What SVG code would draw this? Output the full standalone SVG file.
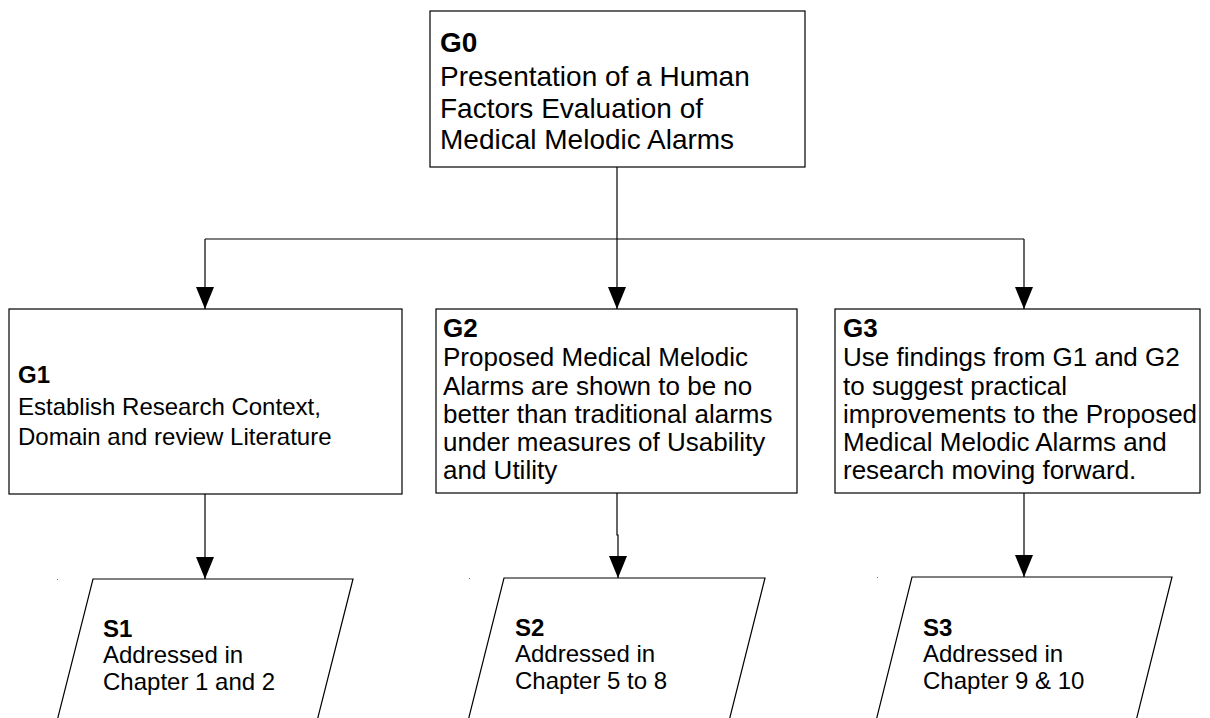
<svg xmlns="http://www.w3.org/2000/svg" width="1210" height="718" viewBox="0 0 1210 718">
  <style>
    .box { fill: #fff; stroke: #000; stroke-width: 1.2; }
    .wire { fill: none; stroke: #000; stroke-width: 1.2; }
    text { font-family: "Liberation Sans", Arial, sans-serif; fill: #000; }
    .id { font-weight: bold; }
    .g0 { font-size: 28px; }
    .g1 { font-size: 24px; }
    .g { font-size: 26px; }
    .s { font-size: 24px; }
    .tick { fill: #777; }
  </style>
  <defs>
    <marker id="arrow" markerUnits="userSpaceOnUse" markerWidth="24" markerHeight="20" refX="22" refY="9" orient="auto">
      <path d="M0,0 L22,9 L0,18 z" fill="#000"/>
    </marker>
  </defs>

  <!-- connectors -->
  <g id="connectors">
    <path class="wire" d="M617,167 V239"/>
    <path class="wire" d="M205,239 H1024"/>
    <path class="wire" d="M205,239 V309" marker-end="url(#arrow)"/>
    <path class="wire" d="M617,239 V309" marker-end="url(#arrow)"/>
    <path class="wire" d="M1024,239 V309" marker-end="url(#arrow)"/>
    <path class="wire" d="M205,494 V579" marker-end="url(#arrow)"/>
    <path class="wire" d="M617,493 V535 H618 V578" marker-end="url(#arrow)"/>
    <path class="wire" d="M1024,493 V577" marker-end="url(#arrow)"/>
  </g>

  <!-- goal G0 -->
  <g id="G0">
    <rect class="box" x="430" y="11" width="375" height="156"/>
    <text class="g0" x="440"><tspan class="id" y="52">G0</tspan><tspan x="440" y="86">Presentation of a Human</tspan><tspan x="440" y="118">Factors Evaluation of</tspan><tspan x="440" y="149">Medical Melodic Alarms</tspan></text>
  </g>

  <!-- goal G1 -->
  <g id="G1">
    <rect class="box" x="9" y="309" width="393" height="185"/>
    <text class="g1" x="18"><tspan class="id" y="383">G1</tspan><tspan x="18" y="415">Establish Research Context,</tspan><tspan x="18" y="445">Domain and review Literature</tspan></text>
  </g>

  <!-- goal G2 -->
  <g id="G2">
    <rect class="box" x="436" y="309" width="361" height="184"/>
    <text class="g" x="443"><tspan class="id" y="337">G2</tspan><tspan x="443" y="366">Proposed Medical Melodic</tspan><tspan x="443" y="395">Alarms are shown to be no</tspan><tspan x="443" y="423">better than traditional alarms</tspan><tspan x="443" y="451">under measures of Usability</tspan><tspan x="443" y="479">and Utility</tspan></text>
  </g>

  <!-- goal G3 -->
  <g id="G3">
    <rect class="box" x="835" y="309" width="365" height="184"/>
    <text class="g" x="843"><tspan class="id" y="337">G3</tspan><tspan x="843" y="366">Use findings from G1 and G2</tspan><tspan x="843" y="395">to suggest practical</tspan><tspan x="843" y="423">improvements to the Proposed</tspan><tspan x="843" y="451">Medical Melodic Alarms and</tspan><tspan x="843" y="479">research moving forward.</tspan></text>
  </g>

  <!-- strategy S1 -->
  <g id="S1">
    <path class="box" d="M93,579 H353 L314,733 H54 Z"/>
    <rect class="tick" x="57" y="579" width="1" height="1"/>
    <text class="s" x="103"><tspan class="id" y="637">S1</tspan><tspan x="103" y="663">Addressed in</tspan><tspan x="103" y="690">Chapter 1 and 2</tspan></text>
  </g>

  <!-- strategy S2 -->
  <g id="S2">
    <path class="box" d="M504,578 H765 L726,733 H465 Z"/>
    <rect class="tick" x="469" y="578" width="1" height="1"/>
    <text class="s" x="515"><tspan class="id" y="636">S2</tspan><tspan x="515" y="662">Addressed in</tspan><tspan x="515" y="689">Chapter 5 to 8</tspan></text>
  </g>

  <!-- strategy S3 -->
  <g id="S3">
    <path class="box" d="M912,577 H1172 L1133,733 H873 Z"/>
    <rect class="tick" x="877" y="577" width="1" height="1"/>
    <text class="s" x="923"><tspan class="id" y="636">S3</tspan><tspan x="923" y="662">Addressed in</tspan><tspan x="923" y="689">Chapter 9 &amp; 10</tspan></text>
  </g>
</svg>
